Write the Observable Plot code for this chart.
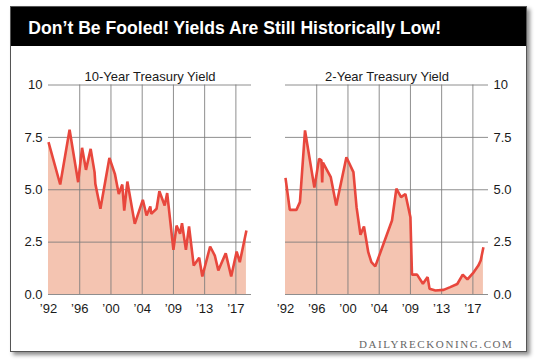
<!DOCTYPE html>
<html><head><meta charset="utf-8">
<script src="https://cdn.jsdelivr.net/npm/d3@7"></script>
<script src="https://cdn.jsdelivr.net/npm/@observablehq/plot@0.6"></script>
<style>
html,body{margin:0;padding:0;background:#fff;width:540px;height:363px;overflow:hidden;}
#card{position:absolute;left:10px;top:6px;width:515px;height:344px;background:#fff;border:1px solid #555;box-shadow:3px 3px 4px rgba(0,0,0,0.45);}
#hdr{position:absolute;left:0;top:0;right:0;height:39px;background:#000;}
#title{position:absolute;left:17.3px;top:11.4px;line-height:1;color:#fff;font:bold 17.6px "Liberation Sans",Arial,sans-serif;white-space:nowrap;}
#foot{position:absolute;right:12.5px;top:330.5px;line-height:1;font:11px "Liberation Serif","Times New Roman",serif;letter-spacing:1.6px;color:#666;white-space:nowrap;}
.chart{position:absolute;top:46px;}
</style></head>
<body>
<div id="card"><div id="hdr"><div id="title">Don’t Be Fooled! Yields Are Still Historically Low!</div></div><div id="foot">DAILYRECKONING.COM</div></div>
<div id="c1" class="chart" style="left:0px"></div>
<div id="c2" class="chart" style="left:270px"></div>
<script>
const years10 = [1992.0, 1993.5, 1994.7, 1995.8, 1996.3, 1996.8, 1997.4, 1997.9, 1998.0, 1998.65, 1999.8, 2000.5, 2001.0, 2001.45, 2001.7, 2002.1, 2003.05, 2004.1, 2004.7, 2005.3, 2005.45, 2006.3, 2006.75, 2007.6, 2008.0, 2009.0, 2009.4, 2009.85, 2010.1, 2010.6, 2011.0, 2011.6, 2012.3, 2012.7, 2013.7, 2014.3, 2014.75, 2015.7, 2016.4, 2017.1, 2017.5, 2018.35];
const yield10 = [7.27, 5.25, 7.86, 5.36, 7.0, 5.95, 6.95, 5.84, 5.28, 4.09, 6.52, 5.76, 4.8, 5.25, 4.0, 5.39, 3.37, 4.52, 3.77, 4.2, 3.85, 4.09, 4.93, 4.25, 4.84, 2.13, 3.29, 2.9, 3.4, 2.13, 3.25, 1.38, 1.75, 0.86, 2.29, 1.86, 1.15, 1.97, 0.86, 2.05, 1.54, 3.05];
const years2 = [1992.0, 1992.55, 1993.4, 1993.85, 1994.5, 1995.7, 1996.3, 1996.6, 1996.7, 1996.8, 1997.8, 1998.5, 1999.8, 2000.7, 2001.1, 2001.6, 2002.05, 2002.6, 2003.0, 2003.5, 2006.05, 2006.75, 2007.5, 2008.2, 2009.0, 2009.2, 2009.85, 2010.6, 2011.2, 2011.45, 2012.2, 2013.25, 2014.1, 2015.0, 2015.7, 2016.3, 2017.1, 2017.7, 2018.0, 2018.35];
const yield2 = [5.57, 4.04, 4.04, 4.41, 7.83, 5.1, 6.48, 6.4, 5.35, 6.3, 5.6, 4.25, 6.55, 5.84, 4.17, 2.85, 3.25, 2.02, 1.54, 1.34, 3.53, 5.05, 4.65, 4.8, 3.69, 0.95, 0.95, 0.51, 0.83, 0.27, 0.19, 0.22, 0.35, 0.5, 0.95, 0.72, 1.06, 1.38, 1.62, 2.26];
const tickYears = [1992, 1996, 2000, 2004, 2009, 2013, 2017];
const tickLabels = ["’92", "’96", "’00", "’04", "’09", "’13", "’17"];
const gridYears = [1996, 2000, 2004, 2009, 2013, 2017];
const yTicks = [0, 2.5, 5, 7.5, 10];
const yTickLabels = ["0.0", "2.5", "5.0", "7.5", "10"];
const domainYears = [1992, 1996, 2000, 2004, 2009, 2013, 2017, 2019];
const segWeights = [1, 1, 1, 1, 1, 1, 0.5];
const titles = ["10-Year Treasury Yield", "2-Year Treasury Yield"];

function makeChart(years, values, title, side, mL, mR) {
  const W = 270, H = 280, mT = 38.5, mB = 32;
  const step = (W - mL - mR) / d3.sum(segWeights);
  const range = [mL];
  segWeights.forEach(w => range.push(range[range.length - 1] + w * step));
  const data = years.map((t, i) => ({t, v: values[i]}));
  return Plot.plot({
    width: W, height: H, marginLeft: mL, marginRight: mR, marginTop: mT, marginBottom: mB,
    style: {fontFamily: '"Liberation Sans", Arial, sans-serif', fontSize: "13px", color: "#1a1a1a", background: "transparent", overflow: "visible"},
    x: {type: "linear", domain: domainYears, range},
    y: {domain: [0, 10]},
    marks: [
      Plot.areaY(data, {x: "t", y: "v", fill: "#f4c4b1"}),
      Plot.gridX(gridYears, {stroke: "#7a7a7a", strokeOpacity: 0.85}),
      Plot.gridY(yTicks, {stroke: "#7a7a7a", strokeOpacity: 0.85}),
      Plot.lineY(data, {x: "t", y: "v", stroke: "#e8473d", strokeWidth: 2.6, strokeLinejoin: "miter", strokeLinecap: "butt"}),
      Plot.axisX(tickYears, {tickSize: 0, tickPadding: 9, tickFormat: d => tickLabels[tickYears.indexOf(d)], label: null}),
      Plot.axisY(yTicks, {anchor: side, tickSize: 0, tickPadding: side === "left" ? 6 : 5, tickFormat: d => yTickLabels[yTicks.indexOf(d)], label: null}),
      Plot.text([title], {text: d => d, frameAnchor: "top", lineAnchor: "bottom", dy: -4, fontSize: 13})
    ]
  });
}
document.getElementById("c1").append(makeChart(years10, yield10, titles[0], "left", 48, 19));
document.getElementById("c2").append(makeChart(years2, yield2, titles[1], "right", 15, 52));
</script>
</body></html>
